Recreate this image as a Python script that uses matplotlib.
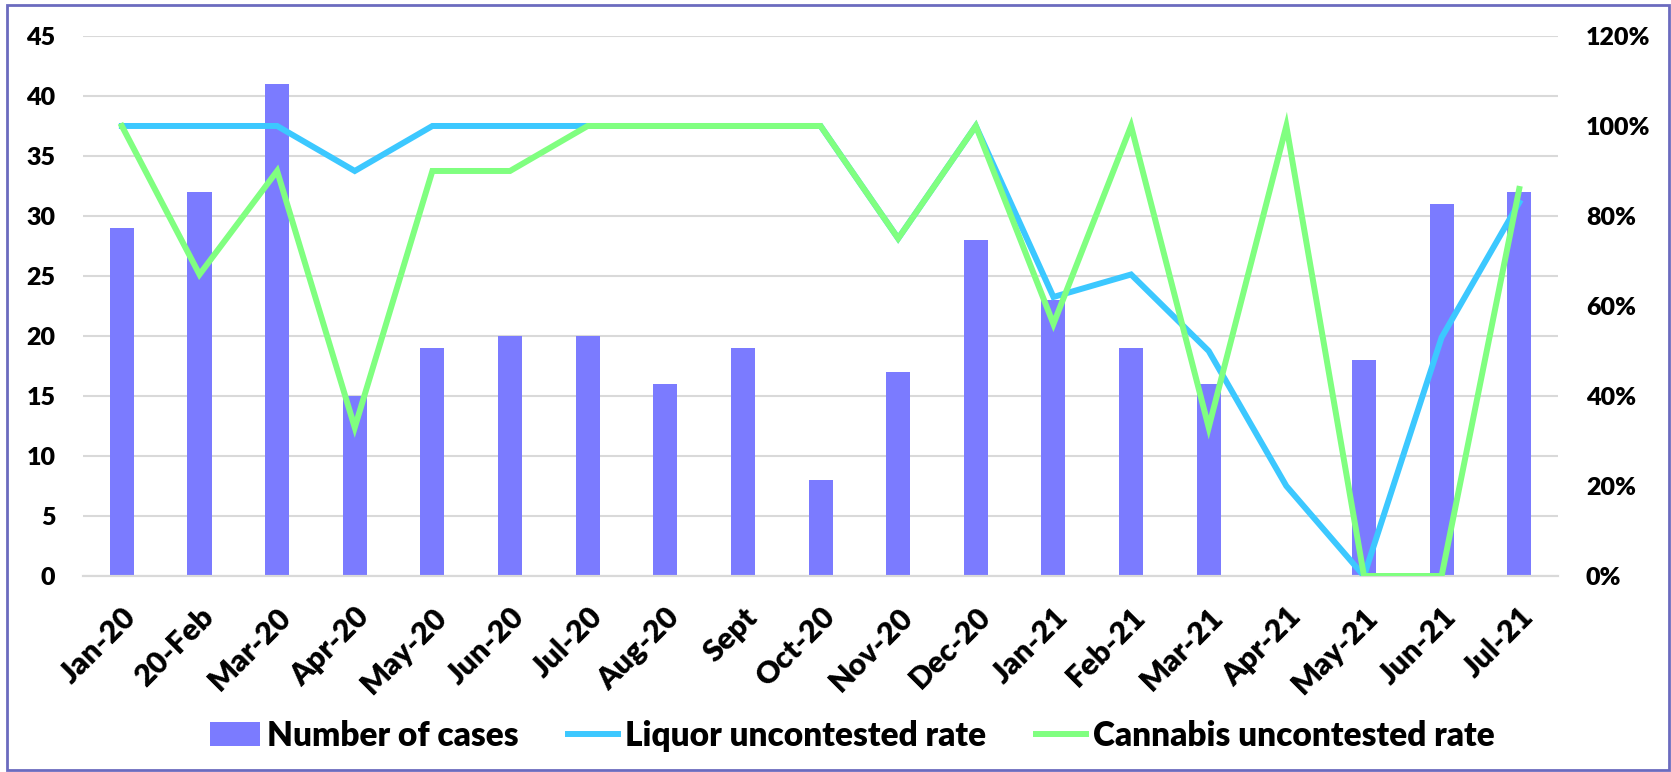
import matplotlib
matplotlib.use("Agg")
import matplotlib.pyplot as plt
from matplotlib.ticker import FuncFormatter, MultipleLocator
from matplotlib.patches import Rectangle
import numpy as np

months = ["Jan-20", "20-Feb", "Mar-20", "Apr-20", "May-20", "Jun-20", "Jul-20", "Aug-20",
          "Sept", "Oct-20", "Nov-20", "Dec-20", "Jan-21", "Feb-21", "Mar-21", "Apr-21",
          "May-21", "Jun-21", "Jul-21"]
cases = [29, 32, 41, 15, 19, 20, 20, 16, 19, 8, 17, 28, 23, 19, 16, 0, 18, 31, 32]
liquor_rate = [100, 100, 100, 90, 100, 100, 100, 100, 100, 100, 75, 100, 62, 67, 50, 20, 0, 53, 83]
cannabis_rate = [100, 67, 90, 33, 90, 90, 100, 100, 100, 100, 75, 100, 56, 100, 33, 100, 0, 0, 86]

BAR = "#7b7bff"
LIQ = "#3cc8ff"
CAN = "#80ff80"
FONT = "Lato"

fig = plt.figure(figsize=(16.71, 7.72), dpi=100)
ax = fig.add_axes([0.0497, 0.2539, 0.8827, 0.6995])
ax2 = ax.twinx()

x = np.arange(len(months))
ax.bar(x, cases, width=0.31, color=BAR, zorder=2, label="Number of cases")
ax2.plot(x, liquor_rate, color=LIQ, lw=4.3, solid_joinstyle="miter", label="Liquor uncontested rate", zorder=3)
ax2.plot(x, cannabis_rate, color=CAN, lw=4.3, solid_joinstyle="miter", label="Cannabis uncontested rate", zorder=4)

ax.set_xlim(-0.5, len(months) - 0.5)
ax.set_ylim(0, 45)
ax2.set_ylim(0, 120)
ax.yaxis.set_major_locator(MultipleLocator(5))
ax2.yaxis.set_major_locator(MultipleLocator(20))
ax2.yaxis.set_major_formatter(FuncFormatter(lambda v, p: f"{int(v)}%"))

ax.grid(axis="y", color="#d9d9d9", lw=1.5, zorder=0)
ax.set_axisbelow(True)
for a in (ax, ax2):
    for s in ["top", "left", "right"]:
        a.spines[s].set_visible(False)
    a.spines["bottom"].set_color("#d9d9d9")
    a.spines["bottom"].set_linewidth(1.5)
    a.tick_params(length=0)

ax.set_xticks(x)
ax.set_xticklabels(months, rotation=45, ha="right", va="top", rotation_mode="anchor",
                   fontsize=22, fontweight="heavy", family=FONT)
ax.tick_params(axis="x", pad=19)
ax.tick_params(axis="y", pad=20)
ax2.tick_params(axis="y", pad=20)
for lab in ax.get_yticklabels() + ax2.get_yticklabels():
    lab.set_fontsize(18); lab.set_fontweight("heavy"); lab.set_family(FONT)

h1, l1 = ax.get_legend_handles_labels()
h2, l2 = ax2.get_legend_handles_labels()
fig.legend(h1 + h2, l1 + l2, loc="center", bbox_to_anchor=(0.51, 0.047), ncol=3,
           frameon=False, prop={"family": FONT, "weight": "heavy", "size": 24},
           handlelength=1.5, handletextpad=0.2, columnspacing=1.5)

fig.patches.append(Rectangle((0.004, 0.003), 0.995, 0.99, transform=fig.transFigure,
                             fill=False, edgecolor="#6b6bbf", lw=2))

fig.savefig("out.png", dpi=100)
